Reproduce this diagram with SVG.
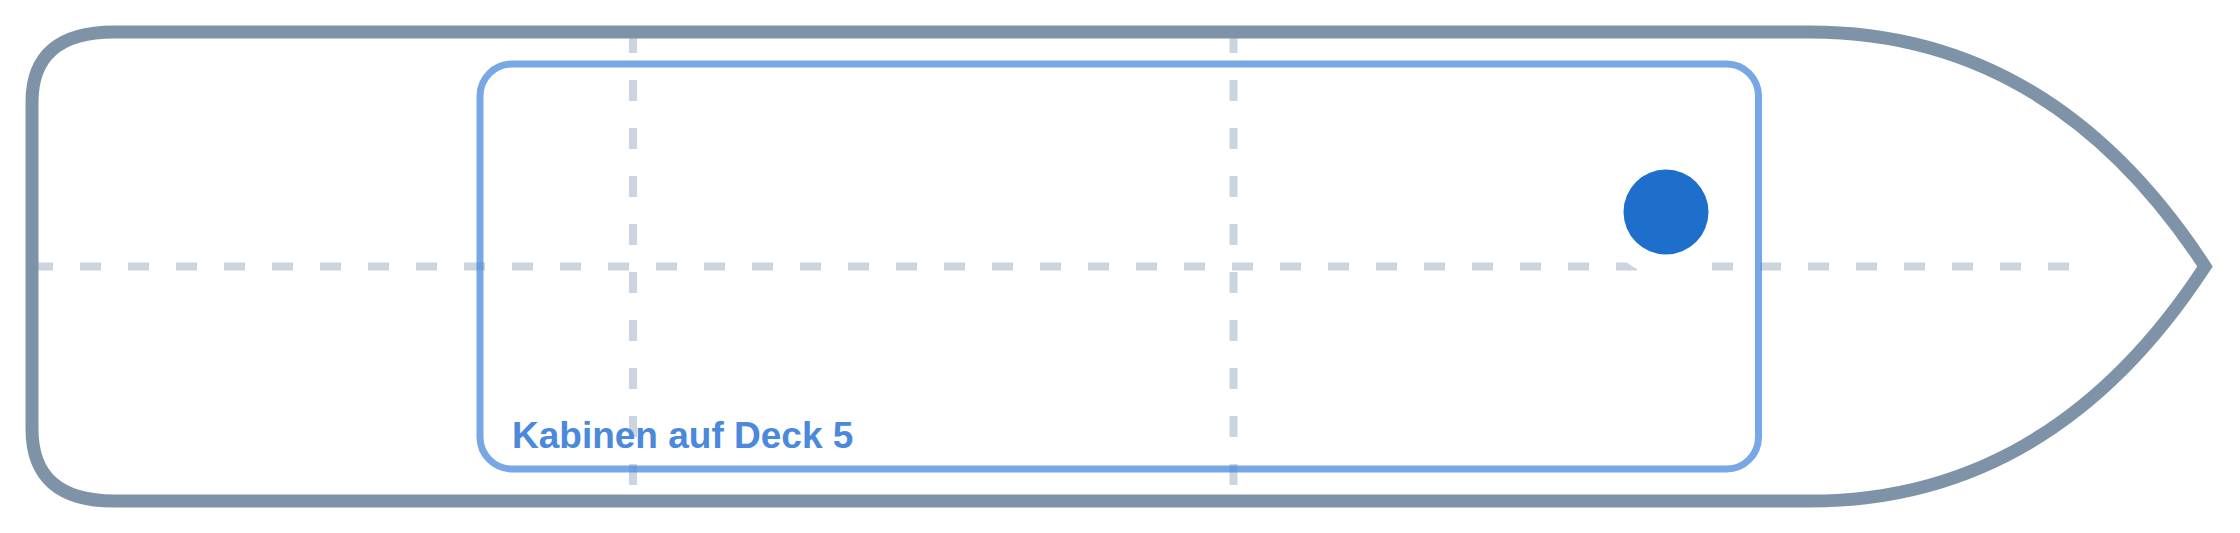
<svg xmlns="http://www.w3.org/2000/svg" width="2240" height="533" viewBox="0 0 2240 533">
  <style>
    .grid { stroke: #CBD5E0; stroke-width: 8; stroke-dasharray: 21 27; fill: none; }
    .hull { stroke: #7F93A8; stroke-width: 13; fill: none; stroke-linejoin: miter; }
    .deck { stroke: #4A89DC; stroke-opacity: 0.75; stroke-width: 7; fill: none; }
    .label { font-family: "Liberation Sans", Arial, sans-serif; font-weight: bold; font-size: 37px; fill: #4A89DC; }
  </style>
  <rect width="2240" height="533" fill="#FFFFFF"/>
  <g id="connectors">
    <line class="grid" x1="32" y1="266.5" x2="2072" y2="266.5"/>
    <line class="grid" x1="633" y1="32" x2="633" y2="501"/>
    <line class="grid" x1="1233.5" y1="32" x2="1233.5" y2="501"/>
  </g>
  <g id="hull">
    <path class="hull" d="M 114 32 L 1810 32 Q 2052 32 2205 266.5 Q 2052 501 1810 501 L 114 501 Q 32 501 32 429 L 32 102 Q 32 32 114 32 Z"/>
  </g>
  <g id="deck5">
    <rect class="deck" x="480" y="64" width="1278.5" height="405" rx="32" ry="32"/>
    <text class="label" x="512" y="448">Kabinen auf Deck 5</text>
  </g>
  <g id="marker">
    <circle cx="1666" cy="212" r="64" fill="#FFFFFF"/>
    <circle cx="1666" cy="212" r="42.5" fill="#1D6FCB"/>
  </g>
</svg>
